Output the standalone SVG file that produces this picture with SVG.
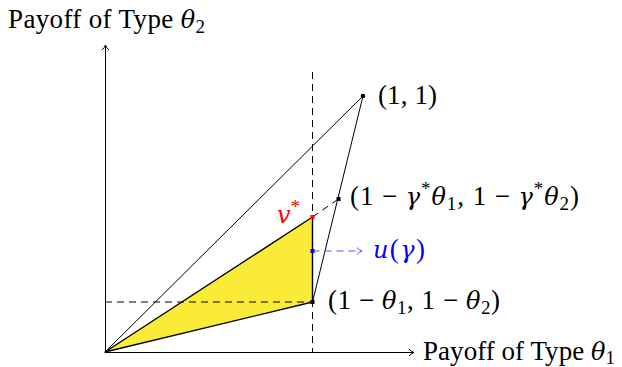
<svg xmlns="http://www.w3.org/2000/svg" width="622" height="367" viewBox="0 0 622 367">
<style>
  text { font-family: "Liberation Serif", "DejaVu Serif", serif; font-size: 27px; fill: #000; }
  .it { font-family: "DejaVu Serif", "Liberation Serif", serif; font-style: italic; font-size: 24px; }
  .sub { font-size: 19px; }
  .thin { stroke: #000; stroke-width: 1; fill: none; }
  .dash { stroke: #000; stroke-width: 1; stroke-dasharray: 7 5; fill: none; }
</style>
<defs>
  <marker id="arr" markerWidth="10" markerHeight="10" refX="7" refY="5" orient="auto" markerUnits="userSpaceOnUse">
    <path d="M2,1.5 Q4,4 7,5 Q4,6 2,8.5" fill="none" stroke="#000" stroke-width="1"/>
  </marker>
  <marker id="arrb" markerWidth="10" markerHeight="10" refX="7" refY="5" orient="auto" markerUnits="userSpaceOnUse">
    <path d="M2,1.5 Q4,4 7,5 Q4,6 2,8.5" fill="none" stroke="#5050FF" stroke-width="1"/>
  </marker>
</defs>

<g id="region">
  <polygon points="105,352 312.5,217 312.5,302" fill="#F9EB38" stroke="#000" stroke-width="1.4" stroke-linejoin="round"/>
</g>

<g id="connectors">
  <line class="thin" x1="105.5" y1="352" x2="105.5" y2="45" marker-end="url(#arr)"/>
  <line class="thin" x1="105" y1="352.5" x2="414" y2="352.5" marker-end="url(#arr)"/>
  <line class="dash" x1="312.5" y1="72" x2="312.5" y2="352"/>
  <line class="dash" x1="105" y1="302" x2="312.5" y2="302"/>
  <line class="thin" x1="105" y1="352" x2="363" y2="96"/>
  <line class="thin" x1="363" y1="96" x2="312.5" y2="302"/>
  <line class="dash" x1="312.5" y1="217" x2="338.5" y2="199"/>
  <line x1="312.5" y1="251" x2="362" y2="251" stroke="#5050FF" stroke-width="1" stroke-dasharray="7 5" marker-end="url(#arrb)"/>
</g>

<g id="axis-y-label"><text x="8" y="28" textLength="197" lengthAdjust="spacing">Payoff of Type <tspan class="it">θ</tspan><tspan class="sub" dy="5">2</tspan></text></g>
<g id="axis-x-label"><text x="423" y="360" textLength="192" lengthAdjust="spacing">Payoff of Type <tspan class="it">θ</tspan><tspan class="sub" dy="4">1</tspan></text></g>

<g id="node-11">
  <circle cx="363" cy="96" r="2.3" fill="#000"/>
  <text x="378" y="104" textLength="59" lengthAdjust="spacing">(1, 1)</text>
</g>
<g id="node-gamma">
  <rect x="336.5" y="197" width="4" height="4" fill="#000"/>
  <text x="350" y="205" textLength="229" lengthAdjust="spacing">(1 − <tspan class="it">γ</tspan><tspan class="sub" dy="-10">*</tspan><tspan class="it" dy="10">θ</tspan><tspan class="sub" dy="5">1</tspan><tspan dy="-5">, 1 − </tspan><tspan class="it">γ</tspan><tspan class="sub" dy="-10">*</tspan><tspan class="it" dy="10">θ</tspan><tspan class="sub" dy="5">2</tspan><tspan dy="-5">)</tspan></text>
</g>
<g id="node-theta">
  <rect x="310.5" y="300" width="4" height="4" fill="#000"/>
  <text x="328" y="309" textLength="172" lengthAdjust="spacing">(1 − <tspan class="it">θ</tspan><tspan class="sub" dy="5">1</tspan><tspan dy="-5">, 1 − </tspan><tspan class="it">θ</tspan><tspan class="sub" dy="5">2</tspan><tspan dy="-5">)</tspan></text>
</g>
<g id="node-vstar">
  <rect x="310.5" y="215" width="4" height="4" fill="#FF0000"/>
  <text x="277" y="223" style="fill:#FF0000"><tspan class="it">v</tspan><tspan class="sub" dy="-10">*</tspan></text>
</g>
<g id="node-u">
  <rect x="310.5" y="249" width="4" height="4" fill="#0000FF"/>
  <text x="373" y="258" style="fill:#0000FF" textLength="52" lengthAdjust="spacing"><tspan class="it">u</tspan>(<tspan class="it">γ</tspan>)</text>
</g>
</svg>
